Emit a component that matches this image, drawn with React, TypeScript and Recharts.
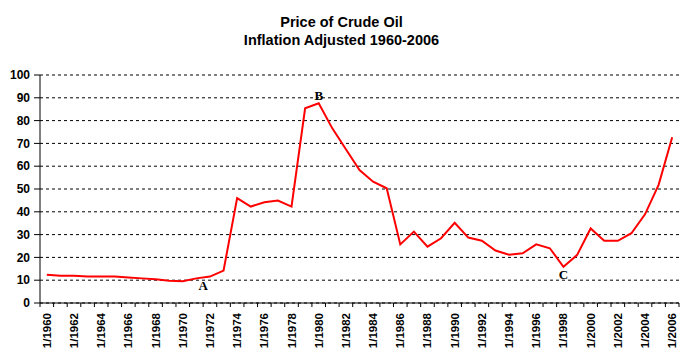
import React from 'react';
import { LineChart, Line, XAxis, YAxis, CartesianGrid, ReferenceDot } from 'recharts';

const YEARS = [
  1960, 1961, 1962, 1963, 1964, 1965, 1966, 1967, 1968, 1969,
  1970, 1971, 1972, 1973, 1974, 1975, 1976, 1977, 1978, 1979,
  1980, 1981, 1982, 1983, 1984, 1985, 1986, 1987, 1988, 1989,
  1990, 1991, 1992, 1993, 1994, 1995, 1996, 1997, 1998, 1999,
  2000, 2001, 2002, 2003, 2004, 2005, 2006,
];

const PRICES = [
  12.4, 11.9, 11.9, 11.6, 11.6, 11.6, 11.2, 10.8, 10.4, 9.8,
  9.5, 10.8, 11.6, 14.2, 46.0, 42.3, 44.2, 44.9, 42.3, 85.4,
  87.6, 76.6, 67.4, 58.3, 53.2, 50.3, 25.7, 31.3, 24.7, 28.4,
  35.2, 28.7, 27.3, 23.0, 21.2, 21.8, 25.7, 24.0, 15.9, 21.0,
  32.7, 27.3, 27.3, 30.6, 38.9, 51.8, 72.7,
];

const X_LABEL_YEARS = [
  1960, 1962, 1964, 1966, 1968, 1970, 1972, 1974, 1976, 1978, 1980, 1982,
  1984, 1986, 1988, 1990, 1992, 1994, 1996, 1998, 2000, 2002, 2004, 2006,
];

const Y_TICKS = [0, 10, 20, 30, 40, 50, 60, 70, 80, 90, 100];

const TITLE_LINES = ['Price of Crude Oil', 'Inflation Adjusted 1960-2006'];

const NOTE_LETTERS = ['A', 'B', 'C'];
const NOTE_YEARS = [1971.5, 1980, 1998];
const NOTE_VALUES = [7.9, 90.9, 12.7];

const data = YEARS.map((year, i) => ({ year, price: PRICES[i] }));
const boundaryTicks = [...YEARS.map((y) => y - 0.5), YEARS[YEARS.length - 1] + 0.5];
const allXTicks = [...boundaryTicks, ...X_LABEL_YEARS].sort((a, b) => a - b);

const SANS = '"Liberation Sans", Arial, sans-serif';
const SERIF = '"Liberation Serif", "Times New Roman", serif';

const XTick = (props: any) => {
  const { x, y, payload } = props;
  const v = payload.value as number;
  if (v % 1 !== 0) {
    return <line x1={x} y1={y} x2={x} y2={y + 4} stroke="#000" strokeWidth={1} />;
  }
  const ty = y + 10;
  return (
    <text
      x={x}
      y={ty}
      transform={`rotate(-90 ${x} ${ty})`}
      textAnchor="end"
      dy="0.35em"
      fontFamily={SANS}
      fontSize={11.5}
      fontWeight="bold"
      fill="#000"
    >
      {`1/${v}`}
    </text>
  );
};

export default function App() {
  return (
    <div style={{ position: 'absolute', left: 0, top: 0, width: 689, height: 362, background: '#fff' }}>
      <div
        style={{
          position: 'absolute',
          left: 0,
          top: 13,
          width: 683,
          textAlign: 'center',
          fontFamily: SANS,
          fontWeight: 'bold',
          fontSize: 14.5,
          lineHeight: '18px',
          color: '#000',
        }}
      >
        {TITLE_LINES.map((t) => (
          <div key={t}>{t}</div>
        ))}
      </div>
      <LineChart
        width={689}
        height={362}
        data={data}
        margin={{ top: 75, right: 10, bottom: 0, left: 0 }}
      >
        <CartesianGrid horizontal vertical={false} stroke="#000" strokeDasharray="3 3" />
        <XAxis
          dataKey="year"
          type="number"
          domain={[1959.5, 2006.5]}
          ticks={allXTicks}
          interval={0}
          tick={<XTick />}
          tickLine={false}
          tickSize={0}
          tickMargin={0}
          axisLine={{ stroke: '#000' }}
          height={59}
        />
        <YAxis
          domain={[0, 100]}
          ticks={Y_TICKS}
          interval={0}
          width={40}
          tickSize={6}
          tickMargin={4}
          tickLine={{ stroke: '#000' }}
          axisLine={{ stroke: '#000' }}
          tick={{ fill: '#000', fontFamily: SANS, fontSize: 12, fontWeight: 'bold' }}
        />
        <Line
          type="linear"
          dataKey="price"
          stroke="#FF0000"
          strokeWidth={2}
          dot={false}
          isAnimationActive={false}
        />
        {NOTE_LETTERS.map((letter, i) => (
          <ReferenceDot
            key={letter}
            x={NOTE_YEARS[i]}
            y={NOTE_VALUES[i]}
            r={0}
            fill="none"
            stroke="none"
            label={{
              value: letter,
              position: 'center',
              fill: '#000',
              fontFamily: SERIF,
              fontWeight: 'bold',
              fontSize: 13,
            }}
          />
        ))}
      </LineChart>
    </div>
  );
}
